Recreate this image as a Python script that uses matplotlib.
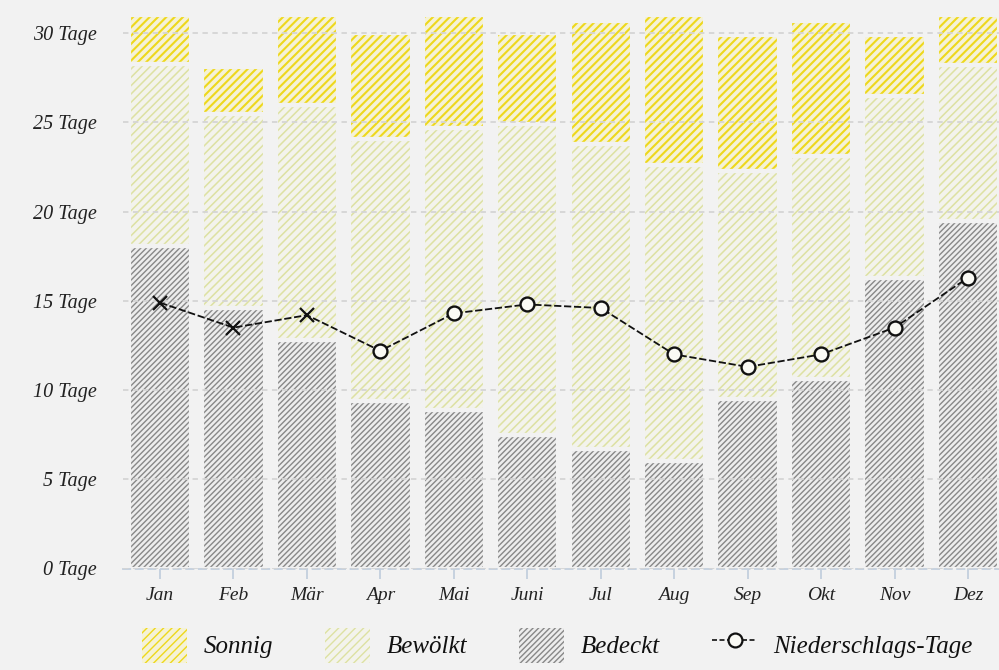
import matplotlib.pyplot as plt
from matplotlib.patches import Patch
from matplotlib.lines import Line2D

plt.rcParams['font.family'] = ['Liberation Serif', 'DejaVu Serif']
plt.rcParams['font.style'] = 'italic'
plt.rcParams['hatch.linewidth'] = 1.0

monate = ['Jan', 'Feb', 'Mär', 'Apr', 'Mai', 'Juni', 'Jul', 'Aug', 'Sep', 'Okt', 'Nov', 'Dez']
bedeckt = [18.1, 14.6, 12.8, 9.4, 8.9, 7.5, 6.7, 6.0, 9.5, 10.6, 16.3, 19.5]
bewoelkt = [10.2, 10.9, 13.2, 14.7, 15.8, 17.4, 17.1, 16.6, 12.8, 12.5, 10.2, 8.7]
sonnig = [2.7, 2.6, 5.0, 5.9, 6.3, 5.1, 6.9, 8.4, 7.6, 7.6, 3.4, 2.8]
niederschlag = [14.9, 13.5, 14.2, 12.2, 14.3, 14.8, 14.6, 12.0, 11.3, 12.0, 13.5, 16.3]
vorlaeufig = [True, True, True, False, False, False, False, False, False, False, False, False]

bg = '#f2f2f2'
fig = plt.figure(figsize=(9.99, 6.7), dpi=100, facecolor=bg)
ax = fig.add_axes([123.3 / 999, 101.5 / 670, 881.4 / 999, 551.5 / 670])
ax.set_facecolor(bg)

x = list(range(len(monate)))
breite = 0.85

# (werte, label, flaeche, schraffurfarbe, schraffur, strichstaerke)
serien = [
    (bedeckt, 'Bedeckt', '#ededed', '#888888', '//////', 1.0),
    (bewoelkt, 'Bewölkt', '#f3f3ec', '#dde1a2', '////', 1.1),
    (sonnig, 'Sonnig', '#f5f2d6', '#eed81c', '////', 1.5),
]

unten = [0] * len(monate)
handles = {}
for werte, name, fc, hc, hatch, hlw in serien:
    with plt.rc_context({'hatch.linewidth': hlw}):
        bars = ax.bar(x, werte, breite, bottom=unten, facecolor=fc, edgecolor=hc,
                      hatch=hatch, linewidth=0, zorder=2)
        for b in bars:
            if hasattr(b, 'set_hatch_linewidth'):
                b.set_hatch_linewidth(hlw)
        # schmale Fugen zwischen den Segmenten
        ax.bar(x, werte, breite, bottom=unten, fill=False, edgecolor=bg,
               linewidth=3, zorder=2.1)
        p = Patch(facecolor=fc, edgecolor=hc, hatch=hatch, linewidth=0)
        if hasattr(p, 'set_hatch_linewidth'):
            p.set_hatch_linewidth(hlw)
        handles[name] = p
    unten = [u + w for u, w in zip(unten, werte)]

# Niederschlagstage
ax.plot(x, niederschlag, color='#111111', lw=1.3, linestyle=(0, (4, 1.5)), zorder=4)
xk = [i for i in x if vorlaeufig[i]]
xo = [i for i in x if not vorlaeufig[i]]
ax.plot(xk, [niederschlag[i] for i in xk], linestyle='none', marker='x', ms=10,
        mew=1.6, color='#111111', zorder=5)
ax.plot(xo, [niederschlag[i] for i in xo], linestyle='none', marker='o', ms=10,
        mfc='#fafaf5', mec='#111111', mew=1.7, zorder=5)

ax.set_xlim(-0.5, 11.5)
ax.set_ylim(0, 30.91)
ax.set_yticks(range(0, 31, 5))
ax.set_yticklabels([f'{v} Tage' for v in range(0, 31, 5)])
ax.set_xticks(x)
ax.set_xticklabels(monate)
ax.yaxis.grid(True, color='#d5d5d5', linestyle=(0, (3, 2.5)), linewidth=1.3)
ax.set_axisbelow(False)

for s in ['top', 'right', 'left']:
    ax.spines[s].set_visible(False)
ax.spines['bottom'].set_color('#c3cfdd')
ax.spines['bottom'].set_linestyle((0, (4, 3)))
ax.spines['bottom'].set_linewidth(1.3)

ax.tick_params(axis='y', length=0, pad=19, labelsize=14.5, labelcolor='#222222')
ax.tick_params(axis='x', length=7, width=1.3, color='#c3cfdd', pad=6,
               labelsize=14, labelcolor='#222222')

linie = Line2D([], [], color='#111111', lw=1.2, linestyle=(0, (3, 1.5)), marker='o',
               ms=10, mfc='#fafaf5', mec='#111111', mew=1.6)
fig.legend([handles['Sonnig'], handles['Bewölkt'], handles['Bedeckt'], linie],
           ['Sonnig', 'Bewölkt', 'Bedeckt', 'Niederschlags-Tage'],
           loc='center', bbox_to_anchor=(0.558, 0.037), ncol=4, frameon=False,
           fontsize=18, handlelength=1.8, handleheight=1.8, handletextpad=0.64,
           columnspacing=2.1, labelcolor='#111111')

fig.savefig('out.png', dpi=100, facecolor=bg)
